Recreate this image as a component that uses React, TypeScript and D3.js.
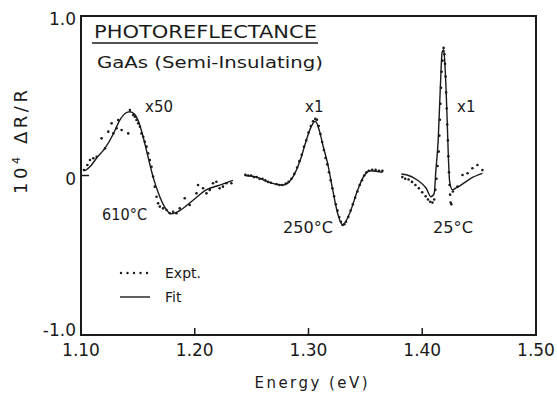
import * as d3 from 'd3';

type Pt = [number, number];

// x ticks (eV) and y ticks (10^4 ΔR/R)
const X_TICKS = [1.1, 1.2, 1.3, 1.4, 1.5];
const X_TICK_LABELS = ['1.10', '1.20', '1.30', '1.40', '1.50'];
const Y_TICKS = [1, 0, -1];
const Y_TICK_LABELS = ['1.0', '0', '-1.0'];

// 610°C (x50)
const FIT_610: Pt[] = [
  [1.1035, 0.03], [1.1085, 0.06], [1.1138, 0.11], [1.121, 0.17], [1.1284, 0.26],
  [1.134, 0.345], [1.139, 0.39], [1.143, 0.4], [1.147, 0.385], [1.151, 0.33],
  [1.1547, 0.24], [1.159, 0.115], [1.1634, -0.01], [1.168, -0.11], [1.1737, -0.2],
  [1.1795, -0.24], [1.1868, -0.22], [1.1985, -0.155], [1.21, -0.09], [1.222, -0.06],
  [1.2336, -0.03],
];
const EXPT_610: Pt[] = [
  [1.1026, 0.034], [1.1056, 0.066], [1.1079, 0.097], [1.1108, 0.108], [1.1138, 0.118],
  [1.1181, 0.233], [1.1211, 0.17], [1.124, 0.275], [1.1269, 0.327], [1.1284, 0.264],
  [1.1313, 0.296], [1.1327, 0.348], [1.1357, 0.285], [1.1415, 0.264], [1.143, 0.411],
  [1.1459, 0.379], [1.1474, 0.369], [1.1488, 0.348], [1.1503, 0.327], [1.1518, 0.306],
  [1.1532, 0.264], [1.1547, 0.243], [1.1561, 0.212], [1.1576, 0.181], [1.159, 0.139],
  [1.1605, 0.097], [1.162, 0.055], [1.1634, -0.007], [1.1649, -0.07], [1.1664, -0.133],
  [1.1678, -0.174], [1.1693, -0.195], [1.1722, -0.206], [1.1752, -0.216], [1.1781, -0.237],
  [1.181, -0.227], [1.1839, -0.237], [1.1868, -0.206], [1.1912, -0.143], [1.1956, -0.185],
  [1.2015, -0.112], [1.2029, -0.06], [1.2073, -0.08], [1.2103, -0.112], [1.2132, -0.091],
  [1.2161, -0.049], [1.219, -0.039], [1.2219, -0.08], [1.2248, -0.07], [1.2278, -0.049],
  [1.2322, -0.049],
];

// 250°C (x1)
const FIT_250: Pt[] = [
  [1.2439, 0.0], [1.2543, -0.01], [1.2643, -0.04], [1.2775, -0.06], [1.2862, -0.01],
  [1.2936, 0.115], [1.298, 0.22], [1.302, 0.3], [1.306, 0.34], [1.3096, 0.28],
  [1.313, 0.18], [1.317, 0.07], [1.3213, -0.09], [1.3257, -0.24], [1.33, -0.31],
  [1.336, -0.24], [1.3433, -0.09], [1.349, 0.0], [1.355, 0.03], [1.3652, 0.02],
];
const EXPT_250: Pt[] = [
  [1.2445, 0.005], [1.247, 0.0], [1.2495, 0.0], [1.252, -0.01], [1.2545, -0.01],
  [1.257, -0.02], [1.2595, -0.02], [1.262, -0.03], [1.2645, -0.04], [1.267, -0.045],
  [1.272, -0.055], [1.2745, -0.06], [1.277, -0.06], [1.28, -0.05], [1.2825, -0.04],
  [1.285, -0.02], [1.2875, 0.01], [1.29, 0.05], [1.292, 0.09], [1.294, 0.13],
  [1.296, 0.18], [1.298, 0.22], [1.3, 0.27], [1.302, 0.31], [1.304, 0.34],
  [1.306, 0.355], [1.3075, 0.35], [1.309, 0.31], [1.3105, 0.26], [1.312, 0.21],
  [1.3135, 0.16], [1.315, 0.11], [1.3165, 0.07], [1.318, 0.02], [1.3195, -0.03],
  [1.321, -0.08], [1.3225, -0.13], [1.324, -0.18], [1.3255, -0.22], [1.327, -0.26],
  [1.3285, -0.29], [1.33, -0.31], [1.3315, -0.305], [1.333, -0.29], [1.335, -0.26],
  [1.337, -0.22], [1.339, -0.18], [1.341, -0.14], [1.343, -0.1], [1.345, -0.06],
  [1.347, -0.03], [1.349, 0.0], [1.351, 0.02], [1.353, 0.03], [1.356, 0.035],
  [1.359, 0.035], [1.362, 0.03], [1.365, 0.03],
];

// 25°C (x1)
const FIT_25: Pt[] = [
  [1.3816, 0.009], [1.3868, 0.003], [1.3956, -0.028], [1.4035, -0.08], [1.4076, -0.133],
  [1.4105, -0.112], [1.412, 0.034], [1.414, 0.22], [1.4158, 0.536], [1.4175, 0.774],
  [1.4189, 0.787], [1.4202, 0.661], [1.4219, 0.348], [1.4228, 0.15], [1.4241, -0.04],
  [1.4266, -0.09], [1.4298, -0.078], [1.434, -0.06], [1.4427, -0.018], [1.4529, 0.013],
];
const EXPT_25: Pt[] = [
  [1.3825, -0.01], [1.385, -0.02], [1.388, -0.025], [1.391, -0.04], [1.394, -0.06],
  [1.397, -0.08], [1.4, -0.105], [1.403, -0.13], [1.405, -0.15], [1.407, -0.165],
  [1.409, -0.17], [1.4105, -0.15], [1.4115, -0.09], [1.4125, -0.02], [1.4135, 0.06],
  [1.4145, 0.15], [1.415, 0.25], [1.4155, 0.35], [1.416, 0.45], [1.4165, 0.55],
  [1.417, 0.65], [1.4178, 0.72], [1.4185, 0.78], [1.4188, 0.8], [1.4195, 0.76],
  [1.42, 0.7], [1.4205, 0.62], [1.421, 0.52], [1.4215, 0.42], [1.422, 0.32],
  [1.4225, 0.22], [1.423, 0.12], [1.4235, 0.02], [1.424, -0.06], [1.4245, -0.12],
  [1.425, -0.17], [1.4256, -0.18], [1.427, -0.1], [1.431, -0.07], [1.4354, 0.003],
  [1.4398, 0.014], [1.4441, 0.045], [1.4485, 0.066], [1.4529, 0.034],
];

const SERIES = [
  { fit: FIT_610, expt: EXPT_610 },
  { fit: FIT_250, expt: EXPT_250 },
  { fit: FIT_25, expt: EXPT_25 },
];

const INK = '#1a1a1a';
const FONT = '"DejaVu Sans", Lato, sans-serif';

export default function App() {
  const W = 557;
  const H = 396;
  const left = 81, right = 536, top = 16, bottom = 335;

  const x = d3.scaleLinear().domain([1.1, 1.5]).range([left, right]);
  const y = d3.scaleLinear().domain([-1, 1]).range([bottom, top]);

  const line = d3.line<Pt>()
    .x(d => x(d[0]))
    .y(d => y(d[1]))
    .curve(d3.curveMonotoneX);

  return (
    <svg width={W} height={H} style={{ position: 'absolute', left: 0, top: 0, background: '#fff' }}
      fontFamily={FONT} fill={INK}>
      {/* frame */}
      <rect x={left} y={top} width={right - left} height={bottom - top}
        fill="none" stroke={INK} strokeWidth={2} />

      {/* bottom ticks */}
      {X_TICKS.slice(1, -1).map(t => (
        <line key={t} x1={x(t)} x2={x(t)} y1={bottom} y2={bottom - 7} stroke={INK} strokeWidth={1.5} />
      ))}
      {/* left tick at 0 */}
      <line x1={left} x2={left + 8} y1={y(0)} y2={y(0)} stroke={INK} strokeWidth={1.5} />

      {/* x tick labels */}
      {X_TICKS.map((t, i) => (
        <text key={t} x={x(t)} y={356} textAnchor="middle" fontSize={17}>{X_TICK_LABELS[i]}</text>
      ))}
      {/* y tick labels */}
      {Y_TICKS.map((t, i) => (
        <text key={t} x={76} y={Math.min(y(t) + 3, bottom - 5)} textAnchor="end"
          dominantBaseline="central" fontSize={17}>
          {Y_TICK_LABELS[i]}
        </text>
      ))}

      {/* axis titles */}
      <text x={311} y={388} textAnchor="middle" fontSize={15} textLength={113} lengthAdjust="spacing">
        Energy (eV)
      </text>
      <text transform="translate(27,142) rotate(-90)" textAnchor="middle" fontSize={18}
        textLength={104} lengthAdjust="spacing">
        10<tspan fontSize={11} dy={-7}>4</tspan><tspan dy={7}> ΔR/R</tspan>
      </text>

      {/* heading */}
      <text x={94} y={38} fontSize={17} textLength={223} lengthAdjust="spacingAndGlyphs">PHOTOREFLECTANCE</text>
      <line x1={92} x2={318} y1={43} y2={43} stroke={INK} strokeWidth={1.3} />
      <text x={97} y={68} fontSize={16} textLength={226} lengthAdjust="spacingAndGlyphs">GaAs (Semi-Insulating)</text>

      {/* curves */}
      {SERIES.map((s, i) => (
        <g key={i}>
          <path d={line(s.fit) ?? ''} fill="none" stroke={INK} strokeWidth={1.4} strokeLinejoin="round" />
          {s.expt.map((d, j) => (
            <circle key={j} cx={x(d[0])} cy={y(d[1])} r={1.3} fill={INK} />
          ))}
        </g>
      ))}

      {/* annotations */}
      <text x={145} y={112} fontSize={15}>x50</text>
      <text x={305} y={112} fontSize={15}>x1</text>
      <text x={457} y={112} fontSize={15}>x1</text>
      <text x={102} y={220} fontSize={15} textLength={45} lengthAdjust="spacingAndGlyphs">610°C</text>
      <text x={283} y={233} fontSize={15} textLength={50} lengthAdjust="spacingAndGlyphs">250°C</text>
      <text x={433} y={233} fontSize={15} textLength={40} lengthAdjust="spacingAndGlyphs">25°C</text>

      {/* legend */}
      {d3.range(5).map(k => (
        <circle key={k} cx={121 + k * 6.5} cy={273} r={1.2} fill={INK} />
      ))}
      <text x={165} y={278} fontSize={14}>Expt.</text>
      <line x1={120} x2={150} y1={297} y2={297} stroke={INK} strokeWidth={1.4} />
      <text x={165} y={302} fontSize={14}>Fit</text>
    </svg>
  );
}
